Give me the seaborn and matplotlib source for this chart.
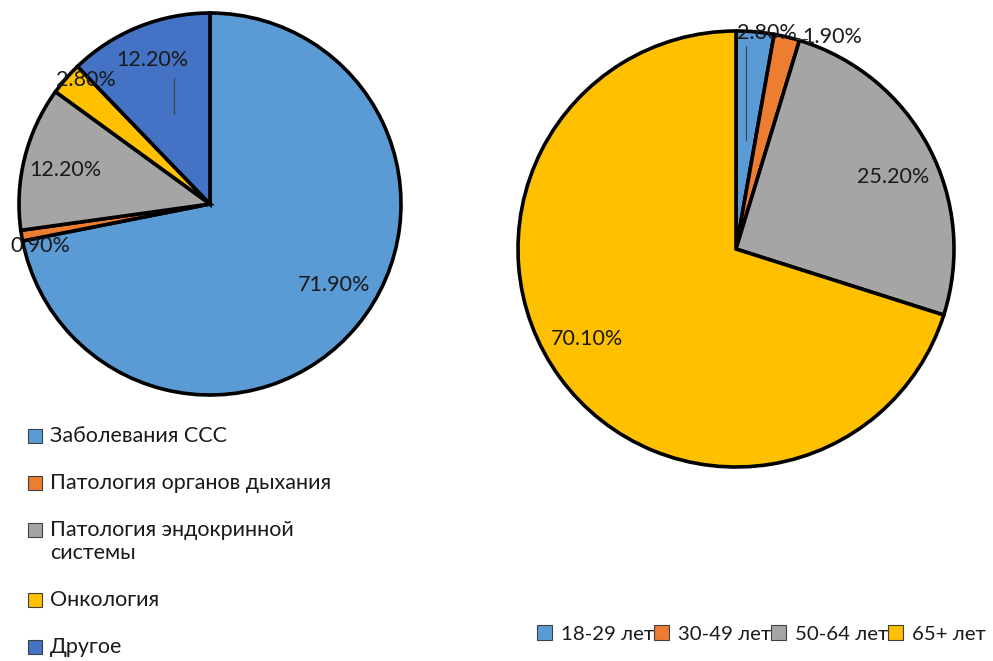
import matplotlib
matplotlib.use("Agg")
import matplotlib.pyplot as plt
from matplotlib.patches import Rectangle
import seaborn as sns

# Distribution of causes (left) and age groups (right), percent
causes = ["Заболевания ССС", "Патология органов дыхания",
          "Патология эндокринной\nсистемы", "Онкология", "Другое"]
cause_share = [71.9, 0.9, 12.2, 2.8, 12.2]

ages = ["18-29 лет", "30-49 лет", "50-64 лет", "65+ лет"]
age_share = [2.8, 1.9, 25.2, 70.1]

cause_colors = ["#5B9BD5", "#ED7D31", "#A5A5A5", "#FFC000", "#4472C4"]
age_colors = ["#5B9BD5", "#ED7D31", "#A5A5A5", "#FFC000"]

# label anchor points (in pie-radius units)
cause_label_pos = [(0.649, -0.424), (-0.890, -0.220), (-0.759, 0.178),
                   (-0.649, 0.649), (-0.304, 0.754)]
age_label_pos = [(0.142, 0.991), (0.440, 0.972), (0.720, 0.330), (-0.683, -0.413)]

sns.set_theme(style="white")
plt.rcParams["font.family"] = ["Lato", "DejaVu Sans"]
FS = 15.5
TXT = "#1a1a1a"

W, H = 993, 661
fig = plt.figure(figsize=(W / 100, H / 100), dpi=100)


def pie_axes(cx, cy, r):
    return fig.add_axes([(cx - r) / W, (H - cy - r) / H, 2 * r / W, 2 * r / H])


def draw_pie(ax, values, colors, label_pos):
    wedges, _ = ax.pie(values, colors=colors, startangle=90, counterclock=False,
                       radius=1, wedgeprops=dict(edgecolor="black", linewidth=2.6))
    for w in wedges:
        w.set_clip_on(False)
    for v, (x, y) in zip(values, label_pos):
        ax.text(x, y, f"{v:.2f}%", ha="center", va="center", fontsize=FS, color=TXT)
    ax.set_xlim(-1, 1)
    ax.set_ylim(-1, 1)
    ax.set_aspect("equal")
    ax.axis("off")


ax1 = pie_axes(210, 204, 191)
draw_pie(ax1, cause_share, cause_colors, cause_label_pos)
ax1.plot([-0.188, -0.188], [0.660, 0.471], color="#404040", lw=0.8)

ax2 = pie_axes(736, 249, 218)
draw_pie(ax2, age_share, age_colors, age_label_pos)
ax2.plot([0.046, 0.046], [0.931, 0.500], color="#404040", lw=0.8)
ax2.plot([0.275, 0.325], [0.965, 0.965], color="#404040", lw=0.8)

# vertical legend for the left pie
y = 436
for name, col in zip(causes, cause_colors):
    fig.patches.append(Rectangle((28 / W, (H - y - 7) / H), 14 / W, 14 / H,
                                 transform=fig.transFigure, facecolor=col,
                                 edgecolor="#404040", linewidth=0.8))
    first, *rest = name.split("\n")
    fig.text(50 / W, (H - y) / H, first, ha="left", va="center", fontsize=FS, color=TXT)
    for k, line in enumerate(rest, 1):
        fig.text(50 / W, (H - y - 23 * k) / H, line, ha="left", va="center",
                 fontsize=FS, color=TXT)
    y += 47 + 23 * len(rest)

# horizontal legend for the right pie
handles = [Rectangle((0, 0), 1, 1, facecolor=c, edgecolor="#404040", linewidth=0.8)
           for c in age_colors]
fig.legend(handles, ages, loc="center", bbox_to_anchor=(761.5 / W, (H - 634) / H),
           ncol=4, frameon=False, fontsize=14.7, handlelength=0.72, handleheight=0.72,
           handletextpad=0.45, columnspacing=0.0, borderpad=0, labelcolor=TXT)

fig.savefig("out.png", dpi=100, facecolor="white")
